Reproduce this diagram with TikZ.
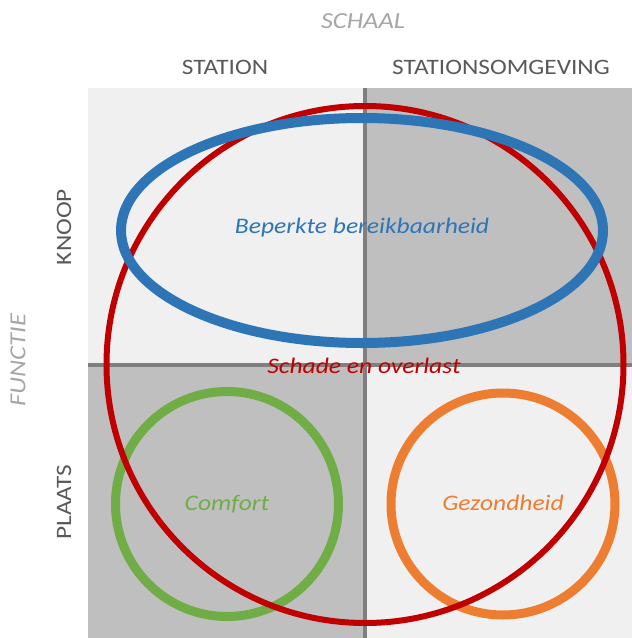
\documentclass[tikz,border=0pt]{standalone}
\usepackage{fontspec}
\setmainfont{Carlito}[FakeStretch=1.15]
\definecolor{lightbg}{HTML}{F0F0F0}
\definecolor{darkbg}{HTML}{BFBFBF}
\definecolor{divider}{HTML}{7F7F7F}
\definecolor{headtext}{HTML}{595959}
\definecolor{axistext}{HTML}{A6A6A6}
\definecolor{cred}{HTML}{C00000}
\definecolor{cblue}{HTML}{2E75B6}
\definecolor{cgreen}{HTML}{70AD47}
\definecolor{corange}{HTML}{ED7D31}
\tikzset{
  head/.style={text=headtext, font=\fontsize{22}{26}\selectfont, inner sep=0pt},
  axis/.style={text=axistext, font=\fontsize{23}{27}\selectfont\itshape, inner sep=0pt},
  lbl/.style={font=\fontsize{22.2}{26}\selectfont\itshape, inner sep=0pt},
  divline/.style={draw=divider, line width=4pt},
}
\begin{document}
\begin{tikzpicture}[x=1pt, y=-1pt]
\useasboundingbox (0,0) rectangle (632,638);
% quadrants
\fill[lightbg] (88,88) rectangle (365,365);
\fill[darkbg] (365,88) rectangle (632,365);
\fill[darkbg] (88,365) rectangle (365,638);
\fill[lightbg] (365,365) rectangle (632,638);
\coordinate (vtop) at (365,88);
\coordinate (vbot) at (365,638);
\coordinate (hleft) at (88,365);
\coordinate (hright) at (632,365);
\draw[divline] (vtop) -- (vbot);
\draw[divline] (hleft) -- (hright);
% headings
\node[axis] (schaal) at (363,21) {SCHAAL};
\node[head] (station) at (225,67) {STATION};
\node[head] (omgeving) at (501,67) {STATIONSOMGEVING};
\node[axis, rotate=90] (functie) at (18,360) {FUNCTIE};
\node[head, rotate=90] (knoop) at (64,227) {KNOOP};
\node[head, rotate=90] (plaats) at (64,502) {PLAATS};
% circles
\draw[cgreen, line width=9pt] (227,504) ellipse [x radius=111.5, y radius=112.5];
\draw[corange, line width=9pt] (503,504) ellipse [x radius=112, y radius=111];
\draw[cred, line width=6pt] (365,364.5) circle [radius=258.5];
\draw[cblue, line width=10pt] (362,230.5) ellipse [x radius=241, y radius=112.5];
% labels
\node[lbl, text=cblue] (bereik) at (362,228) {Beperkte bereikbaarheid};
\node[lbl, text=cred] (schade) at (364,366) {Schade en overlast};
\node[lbl, text=cgreen] (comfort) at (227,504) {Comfort};
\node[lbl, text=corange] (gezond) at (503,503) {Gezondheid};
\end{tikzpicture}
\end{document}
